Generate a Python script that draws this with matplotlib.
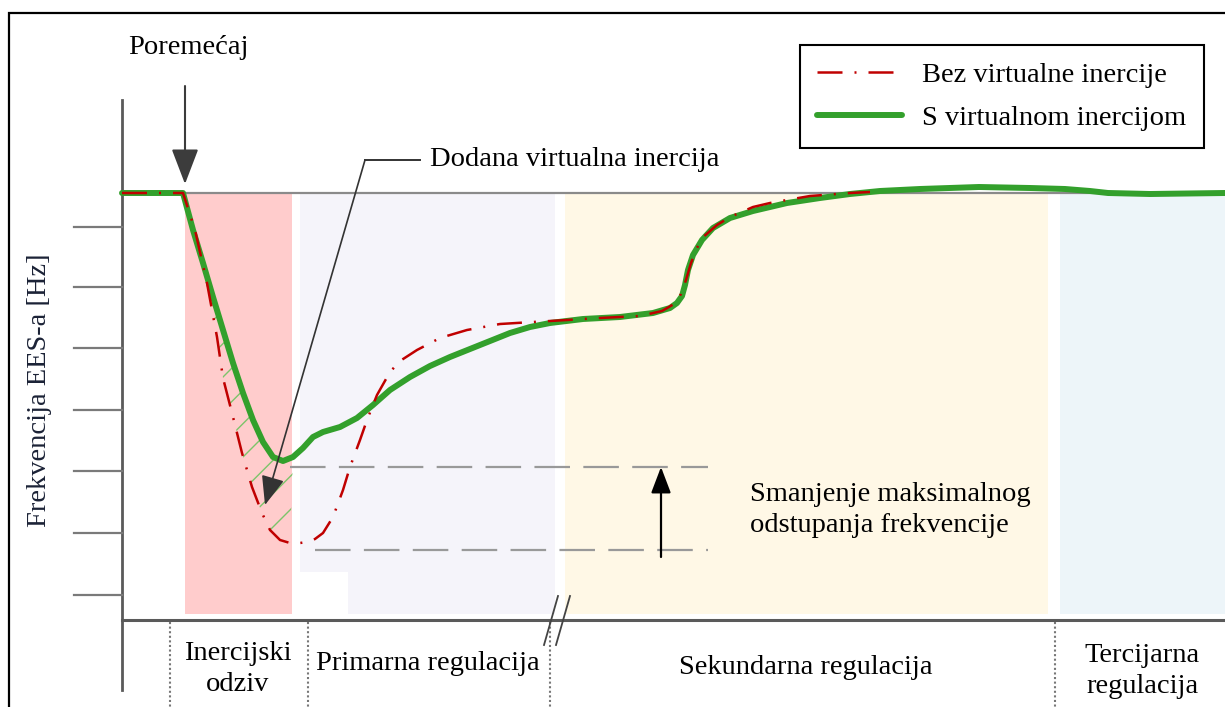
import matplotlib
matplotlib.use("Agg")
import matplotlib.pyplot as plt
from matplotlib.patches import Rectangle, Polygon

plt.rcParams['font.family'] = ['Liberation Serif', 'DejaVu Serif']
plt.rcParams['hatch.linewidth'] = 1.0
plt.rcParams['hatch.color'] = '#7cc46a'

# ---------------- data (time units, frequency units; arbitrary)
t_green = [0, 61, 71, 81, 91, 101, 111, 121, 131, 141, 151, 161, 171, 181, 191, 201, 218, 235,
           251, 268, 288, 308, 328, 348, 368, 388, 408, 428, 461, 498, 531, 548, 555, 560, 563,
           566, 571, 580, 591, 608, 631, 665, 698, 728, 758, 798, 857, 908, 943, 968, 986, 1028,
           1103]
f_green = [427, 427, 390, 357, 323, 290, 257, 227, 200, 178, 163, 159, 163, 172, 183, 188, 193,
           202, 215, 230, 243, 254, 263, 271, 279, 287, 293, 297, 301, 303, 307, 312, 317, 324,
           335, 350, 365, 380, 392, 402, 409, 417, 422, 426, 429, 431, 433, 432, 431, 429, 427,
           426, 427]

t_red = [0, 61, 73, 85, 95, 101, 110, 120, 130, 140, 148, 158, 168, 178, 185, 193, 201, 211, 221,
         228, 238, 245, 255, 268, 278, 295, 318, 345, 378, 411, 445, 478, 518, 540, 552, 559, 564,
         569, 575, 580, 595, 608, 631, 648, 665, 688, 728, 748]
f_red = [427, 427, 390, 337, 283, 242, 207, 167, 133, 107, 90, 80, 77, 77, 78, 81, 87, 103, 130,
         153, 180, 200, 225, 248, 259, 270, 282, 290, 296, 298, 300, 302, 304, 309, 316, 326, 340,
         357, 372, 382, 395, 403, 413, 417, 420, 424, 427, 428]

series_labels = ["Bez virtualne inercije", "S virtualnom inercijom"]

f_nominal = 427
f_max_dev_with = 153      # minimum level with virtual inertia
f_max_dev_without = 70    # minimum level without virtual inertia

y_ticks = [393, 333, 272, 210, 149, 87, 25]

phase_labels = ["Inercijski\nodziv", "Primarna regulacija", "Sekundarna regulacija", "Tercijarna\nregulacija"]
phase_label_t = [116, 306, 684, 1020]
phase_label_f = [-49, -44, -47, -51]
phase_sep_t = [48, 186, 428, 933]
band_start = [63, 178, 443, 938]
band_end = [170, 433, 926, 1110]
band_colors = ['#FFCCCC', '#F5F4FA', '#FFF8E6', '#EDF5F9']

# ---------------- figure
fig = plt.figure(figsize=(12.25, 7.07), dpi=100)
ax = fig.add_axes([0, 0, 1, 1])
ax.set_xlim(-122, 1103)
ax.set_ylim(-87, 620)
ax.axis('off')

FS = 20.5
AX_COL = '#5a5a5a'

# bands
for s, e, c in zip(band_start, band_end, band_colors):
    ax.add_patch(Rectangle((s, 6), e - s, f_nominal - 6, facecolor=c, edgecolor='none', zorder=0))
ax.add_patch(Rectangle((178, 6), 48, 42, facecolor='white', edgecolor='none', zorder=0.5))

# outer frame (left and top)
ax.plot([-113, -113, 1110], [-90, 607, 607], color='black', lw=1.6, zorder=1, solid_joinstyle='miter')

# nominal line
ax.plot([0, 1103], [f_nominal, f_nominal], color='#8a8a8a', lw=1.6, zorder=1)

# axes
ax.plot([0, 0], [-70, 520], color=AX_COL, lw=2.0, zorder=2)
ax.plot([0, 1103], [0, 0], color=AX_COL, lw=2.2, zorder=2)
for yt in y_ticks:
    ax.plot([-48, 0], [yt, yt], color='#7a7a7a', lw=1.6, zorder=2)

# break marks
ax.plot([422, 436], [-25, 24], color='#444444', lw=1.3, zorder=3)
ax.plot([434, 448], [-25, 24], color='#444444', lw=1.3, zorder=3)

# separators
for xs in phase_sep_t:
    ax.plot([xs, xs], [-2, -90], color='#777777', lw=1.5, ls=(0, (1, 1.2)), zorder=2)

# phase labels
for lab, x, y in zip(phase_labels, phase_label_t, phase_label_f):
    ax.text(x, y, lab, ha='center', va='center', fontsize=FS, linespacing=1.35, zorder=5)

# hatch between curves in inertial region
gi = [i for i, t in enumerate(t_green) if 61 <= t <= 171]
ri = [i for i, t in enumerate(t_red) if 61 <= t <= 168]
poly = [(t_green[i], f_green[i]) for i in gi] + [(t_red[i], f_red[i]) for i in reversed(ri)]
ax.add_patch(Polygon(poly, closed=True, facecolor='none', edgecolor='#7cc46a', lw=0,
                     hatch='/', zorder=2.5))

# dashed reference lines
ax.plot([168, 586], [f_max_dev_with, f_max_dev_with], color='#999999', lw=1.6,
        ls=(0, (16, 6)), zorder=1.5)
ax.plot([193, 586], [f_max_dev_without, f_max_dev_without], color='#999999', lw=1.6,
        ls=(0, (16, 6)), zorder=1.5)

# curves
g_line, = ax.plot(t_green, f_green, color='#33A02C', lw=4.3, solid_capstyle='round',
                  solid_joinstyle='round', zorder=3, label=series_labels[1])
r_line, = ax.plot(t_red, f_red, color='#C00000', lw=1.8, ls=(0, (10, 4.8, 0.8, 4.8)),
                  zorder=4, label=series_labels[0])

# reduction arrow
ax.annotate('', xy=(539, f_max_dev_with), xytext=(539, 63),
            arrowprops=dict(arrowstyle='-|>,head_length=1.0,head_width=0.38', color='black',
                            lw=1.6, shrinkA=0, shrinkB=0, mutation_scale=16), zorder=6)
ax.text(628, 110, "Smanjenje maksimalnog\nodstupanja frekvencije", ha='left', va='center',
        fontsize=FS, linespacing=1.32, zorder=5)

# disturbance
ax.text(66, 572, "Poremećaj", ha='center', va='center', fontsize=FS, zorder=5)
ax.annotate('', xy=(63, 436), xytext=(63, 534),
            arrowprops=dict(arrowstyle='-|>,head_length=1.1,head_width=0.42', color='#3c3c3c',
                            lw=1.5, shrinkA=0, shrinkB=0, mutation_scale=20), zorder=6)

# added virtual inertia leader
ax.plot([298, 243], [460, 460], color='#333333', lw=1.4, zorder=6)
ax.annotate('', xy=(143, 115), xytext=(243, 460),
            arrowprops=dict(arrowstyle='-|>,head_length=1.0,head_width=0.4', color='#333333',
                            lw=1.2, shrinkA=0, shrinkB=0, mutation_scale=18), zorder=6)
ax.text(308, 460, "Dodana virtualna inercija", ha='left', va='center', fontsize=FS, zorder=5)

# y label
ax.text(-82, 230, "Frekvencija EES-a [Hz]", ha='center', va='center', rotation=90,
        fontsize=FS, color='#1b2236', zorder=5)

# legend
leg = ax.legend(handles=[r_line, g_line], labels=series_labels, loc='upper left',
                bbox_to_anchor=(800 / 1225, 1 - 45 / 707), bbox_transform=fig.transFigure,
                fontsize=FS, frameon=True, fancybox=False, framealpha=1, edgecolor='black',
                borderpad=0.6, handlelength=3.0, handletextpad=0.7, labelspacing=0.6,
                borderaxespad=0)
leg.get_frame().set_linewidth(1.5)
leg.set_zorder(7)

fig.savefig('out.png', dpi=100)
